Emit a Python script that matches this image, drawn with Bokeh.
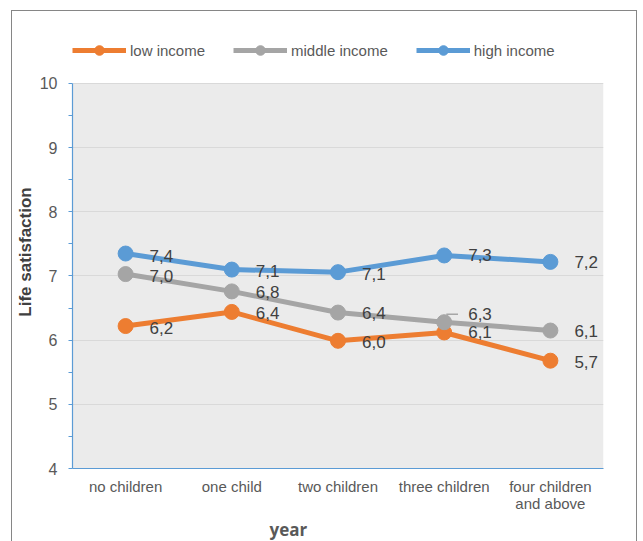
from bokeh.plotting import figure
from bokeh.models import (ColumnDataSource, FactorRange, LabelSet, Legend, LegendItem,
                          Title, FixedTicker, BoxAnnotation)
from bokeh.core.properties import value
from bokeh.embed import file_html
from bokeh.resources import INLINE

categories = ["no children", "one child", "two children", "three children", "four children\nand above"]
low_income = [6.22, 6.44, 5.99, 6.12, 5.68]
middle_income = [7.03, 6.76, 6.43, 6.28, 6.15]
high_income = [7.35, 7.10, 7.06, 7.32, 7.22]
low_labels = ["6,2", "6,4", "6,0", "6,1", "5,7"]
middle_labels = ["7,0", "6,8", "6,4", "6,3", "6,1"]
high_labels = ["7,4", "7,1", "7,1", "7,3", "7,2"]
y_ticks = [4, 5, 6, 7, 8, 9, 10]
series_names = ["low income", "middle income", "high income"]
colors = ["#ed7d31", "#a5a5a5", "#5b9bd5"]

FONT = "Liberation Sans"

# frame extends above the value axis to host the legend
p = figure(x_range=FactorRange(*categories), y_range=(4, 10.748),
           width=626, height=531, output_backend="svg", toolbar_location=None,
           min_border_left=60, min_border_right=35, min_border_top=24, min_border_bottom=74)
p.margin = (10, 0, 0, 11)
p.styles = {"border-top": "1px solid #868686", "border-left": "1px solid #868686",
            "border-right": "1px solid #868686", "box-sizing": "border-box"}
p.background_fill_color = "white"
p.border_fill_color = "white"
p.outline_line_color = None

p.add_layout(BoxAnnotation(bottom=y_ticks[0], top=y_ticks[-1], fill_color="#ebebeb",
                           fill_alpha=1, line_color=None, level="image"))

p.x_range.range_padding = 0
p.xgrid.grid_line_color = None
p.ygrid.grid_line_color = "#d9d9d9"
p.ygrid.grid_line_width = 1
p.ygrid.level = "underlay"
p.yaxis.ticker = FixedTicker(ticks=y_ticks,
                             minor_ticks=[t + 0.5 for t in y_ticks[:-1]])
p.yaxis.bounds = (y_ticks[0], y_ticks[-1])

for ax in (p.xaxis, p.yaxis):
    ax.axis_line_color = "#5b9bd5"
    ax.axis_line_width = 1.2
    ax.major_label_text_font = FONT
    ax.major_label_text_font_size = "15px"
    ax.major_label_text_color = "#595959"

p.yaxis.major_tick_line_color = "#5b9bd5"
p.yaxis.minor_tick_line_color = "#5b9bd5"
p.yaxis.major_tick_out = 4
p.yaxis.major_tick_in = 0
p.yaxis.minor_tick_out = 4
p.yaxis.minor_tick_in = 0
p.yaxis.major_label_text_font_size = "16px"
p.yaxis.major_label_standoff = 11
p.yaxis.axis_label = "Life satisfaction"
p.yaxis.axis_label_text_font = FONT
p.yaxis.axis_label_text_font_style = "bold"
p.yaxis.axis_label_text_font_size = "17px"
p.yaxis.axis_label_text_color = "#404040"
p.yaxis.axis_label_standoff = 2

p.xaxis.major_tick_line_color = None
p.xaxis.minor_tick_line_color = None
p.xaxis.major_tick_out = 0
p.xaxis.major_tick_in = 0
p.xaxis.major_label_standoff = 9
p.xaxis.major_label_text_line_height = 1.05

series = [low_income, middle_income, high_income]
labels = [low_labels, middle_labels, high_labels]
items = []
for name, vals, labs, col in zip(series_names, series, labels, colors):
    src = ColumnDataSource(dict(x=categories, y=vals, t=labs))
    r1 = p.line("x", "y", source=src, line_color=col, line_width=5)
    r2 = p.scatter("x", "y", source=src, size=15, fill_color=col, line_color=col)
    items.append(LegendItem(label=name, renderers=[r1, r2]))

# data labels (offsets are style only)
label_dx = {
    "low income": [24, 24, 24, 24, 24],
    "middle income": [24, 24, 24, 24, 24],
    "high income": [24, 24, 24, 24, 24],
}
label_dy = {
    "low income": [-2, -1, -1, 0, -1],
    "middle income": [-2, -1, 0, 8, 0],
    "high income": [-2, -1, -2, 0, 0],
}
for name, vals, labs in zip(series_names, series, labels):
    src = ColumnDataSource(dict(x=categories, y=vals, t=labs,
                                dx=label_dx[name], dy=label_dy[name]))
    ls = LabelSet(x="x", y="y", text="t", source=src, x_offset="dx", y_offset="dy",
                  text_font=value(FONT), text_font_size=value("17px"), text_color="#404040",
                  text_baseline="middle", text_align="left")
    p.add_layout(ls)

# leader line of the displaced "6,3" label
lead_y = middle_income[3] + 0.125
p.segment(x0=[[categories[3], 0.02]], y0=[lead_y], x1=[[categories[3], 0.13]], y1=[lead_y],
          line_color="#a6a6a6", line_width=1.5)

legend = Legend(items=items, orientation="horizontal", location=(0, 406),
                glyph_width=54, glyph_height=24, label_standoff=4, spacing=28,
                padding=0, margin=0, border_line_color=None, background_fill_alpha=0,
                label_text_font=FONT, label_text_font_size="15px", label_text_color="#595959",
                label_height=24)
p.add_layout(legend, "center")

year = Title(text="year", align="left", offset=197, text_font="Open Sans",
             text_font_style="bold", text_font_size="17px", text_color="#595959",
             standoff=0)
p.add_layout(year, "below")

open("out.html", "w").write(file_html(p, INLINE))
